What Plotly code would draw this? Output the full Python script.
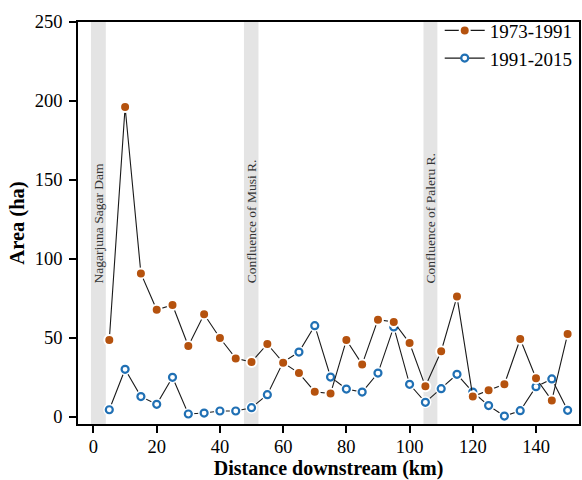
import plotly.graph_objects as go

# ---------------- data ----------------
distance_km = [5, 10, 15, 20, 25, 30, 35, 40, 45, 50, 55, 60, 65, 70, 75,
               80, 85, 90, 95, 100, 105, 110, 115, 120, 125, 130, 135, 140, 145, 150]
area_1973_1991 = [48.7, 196.2, 90.9, 67.9, 70.9, 44.9, 65.0, 50.0, 37.1, 34.8,
                  46.2, 34.4, 27.8, 16.0, 14.8, 48.7, 33.3, 61.6, 60.1, 46.8,
                  19.4, 41.6, 76.2, 12.9, 16.9, 20.7, 49.4, 24.5, 10.5, 52.5]
area_1991_2015 = [4.6, 30.2, 12.9, 8.0, 25.1, 1.9, 2.5, 3.8, 3.8, 5.9,
                  14.1, 34.8, 41.1, 57.8, 25.3, 17.7, 15.8, 27.8, 57.0, 20.7,
                  9.3, 17.9, 27.0, 15.8, 7.2, 0.6, 4.0, 19.2, 24.1, 4.2]

band_start_km = [-0.8, 47.6, 104.4]
band_end_km = [3.9, 52.2, 108.8]
band_labels = ["Nagarjuna Sagar Dam", "Confluence of Musi R.", "Confluence of Paleru R."]
band_label_area = 83.5

x_ticks = [0, 20, 40, 60, 80, 100, 120, 140]
y_ticks = [0, 50, 100, 150, 200, 250]
x_range = [-4.9, 153.6]
y_range = [-4.43, 250]

# ---------------- style ----------------
FONT = "Liberation Serif, Times New Roman, serif"
ORANGE = "#B5520E"
BLUE = "#2070B4"

fig = go.Figure()

# blue series: line, white halo (gap), open markers
fig.add_trace(go.Scatter(
    x=distance_km, y=area_1991_2015, mode="lines",
    line=dict(color="#1a1a1a", width=1.1), showlegend=False, hoverinfo="skip"))
fig.add_trace(go.Scatter(
    x=distance_km, y=area_1991_2015, mode="markers",
    marker=dict(color="white", size=12, line=dict(width=0)),
    showlegend=False, hoverinfo="skip"))
fig.add_trace(go.Scatter(
    x=distance_km, y=area_1991_2015, mode="lines+markers", name="1991-2015",
    line=dict(color="rgba(0,0,0,0)", width=1.1),
    marker=dict(color="white", size=7, line=dict(color=BLUE, width=2.2)),
    showlegend=False))

# orange series
fig.add_trace(go.Scatter(
    x=distance_km, y=area_1973_1991, mode="lines+markers", name="1973-1991",
    line=dict(color="#1a1a1a", width=1.1),
    marker=dict(color=ORANGE, size=10, line=dict(color="white", width=2))))

# legend entry for blue series (line + open marker)
fig.add_trace(go.Scatter(
    x=[None], y=[None], mode="lines+markers", name="1991-2015",
    line=dict(color="#1a1a1a", width=1.1),
    marker=dict(color="white", size=7, line=dict(color=BLUE, width=2.2))))

# grey bands and their labels
for x0, x1, lab in zip(band_start_km, band_end_km, band_labels):
    fig.add_shape(type="rect", xref="x", yref="paper", x0=x0, x1=x1, y0=0, y1=1,
                  fillcolor="#E4E4E4", line=dict(width=0), layer="below")
    fig.add_annotation(x=(x0 + x1) / 2, y=band_label_area, xref="x", yref="y",
                       text=lab, textangle=-90, showarrow=False,
                       xanchor="center", yanchor="bottom",
                       font=dict(family=FONT, size=13.5, color="#333333"))

axis_common = dict(
    showline=True, linecolor="black", linewidth=1.8, mirror=True,
    ticks="outside", ticklen=7, tickwidth=1.5, tickcolor="black",
    showgrid=False, zeroline=False, automargin=False,
    tickfont=dict(family=FONT, size=18.5, color="black"),
)

fig.update_xaxes(range=x_range, tickvals=x_ticks, ticktext=[str(v) for v in x_ticks],
                 ticklabelstandoff=-2,
                 title=dict(text="<b>Distance downstream (km)</b>", standoff=3,
                            font=dict(family=FONT, size=20, color="black")),
                 **axis_common)
fig.update_yaxes(range=y_range, tickvals=y_ticks, ticktext=[str(v) for v in y_ticks],
                 ticklabelstandoff=3,
                 title=dict(text="<b>Area (ha)</b>", standoff=4,
                            font=dict(family=FONT, size=20.5, color="black")),
                 **axis_common)

fig.update_layout(
    width=582, height=480,
    margin=dict(l=78, r=3, t=22, b=56, autoexpand=False),
    paper_bgcolor="white", plot_bgcolor="white",
    font=dict(family=FONT, color="black"),
    legend=dict(x=0.722, y=1.026, xanchor="left", yanchor="top",
                bgcolor="rgba(0,0,0,0)", borderwidth=0,
                font=dict(family=FONT, size=19, color="black"),
                itemwidth=40, tracegroupgap=0),
    showlegend=True,
)

fig.write_html("out.html")
